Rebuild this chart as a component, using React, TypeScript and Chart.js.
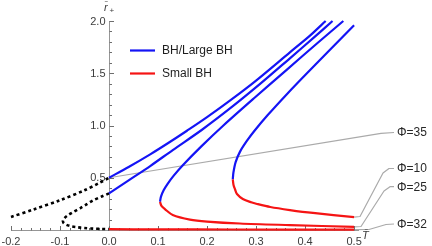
import React, { useEffect, useRef } from "react";
import { Chart, registerables } from "chart.js";

Chart.register(...registerables);

// ---------- data (T̄ , r̄+) ----------
// Φ=35
const T_A_large = [0, 0.04, 0.084, 0.12, 0.159, 0.2, 0.25, 0.3, 0.369, 0.41, 0.442];
const R_A_large = [0.5, 0.603, 0.724, 0.83, 0.95, 1.08, 1.25, 1.43, 1.7, 1.86, 2.0];
const T_A_neg = [-0.2, -0.155, -0.1, -0.05, -0.02, 0];
const R_A_neg = [0.125, 0.195, 0.285, 0.38, 0.45, 0.5];
// Φ=32
const T_B_large = [0, 0.04, 0.084, 0.13, 0.189, 0.25, 0.31, 0.369, 0.42, 0.456];
const R_B_large = [0.35, 0.475, 0.612, 0.765, 0.957, 1.175, 1.405, 1.643, 1.85, 2.0];
const T_B_small = [0, 0.1, 0.25, 0.5];
const R_B_small = [0.008, 0.006, 0.005, 0.004];
const T_B_neg = [0, -0.015, -0.032, -0.046, -0.059, -0.072, -0.083, -0.09, -0.094, -0.093, -0.088, -0.078, -0.066, -0.05, -0.032, -0.015, 0];
const R_B_neg = [0.35, 0.32, 0.285, 0.245, 0.208, 0.175, 0.144, 0.118, 0.092, 0.07, 0.052, 0.036, 0.027, 0.019, 0.013, 0.01, 0.008];
// Φ=25
const T_C_large = [0.104, 0.106, 0.1114, 0.1192, 0.132, 0.1505, 0.1883, 0.2333, 0.2981, 0.3618, 0.423, 0.478];
const R_C_large = [0.27, 0.32, 0.38, 0.44, 0.52, 0.62, 0.8, 1.0, 1.27, 1.53, 1.78, 2.0];
const T_C_small = [0.104, 0.107, 0.114, 0.13, 0.165, 0.2, 0.267, 0.369, 0.5];
const R_C_small = [0.27, 0.23, 0.2, 0.144, 0.1, 0.081, 0.062, 0.047, 0.03];
// Φ=10
const T_D_large = [0.2525, 0.2538, 0.2583, 0.2673, 0.2808, 0.2968, 0.3238, 0.3628, 0.4038, 0.4458, 0.5];
const R_D_large = [0.485, 0.55, 0.65, 0.75, 0.85, 0.95, 1.1, 1.3, 1.5, 1.7, 1.96];
const T_D_small = [0.2525, 0.254, 0.257, 0.261, 0.273, 0.29, 0.302, 0.329, 0.369, 0.416, 0.5];
const R_D_small = [0.485, 0.43, 0.39, 0.344, 0.297, 0.265, 0.249, 0.22, 0.191, 0.163, 0.124];

const xTickValues = [-0.2, -0.1, 0, 0.1, 0.2, 0.3, 0.4, 0.5];
const xTickLabels = ["-0.2", "-0.1", "0.0", "0.1", "0.2", "0.3", "0.4", "0.5"];
const yTickValues = [0.5, 1.0, 1.5, 2.0];
const yTickLabels = ["0.5", "1.0", "1.5", "2.0"];
const legendLabels = ["BH/Large BH", "Small BH"];
const phiLabels = ["Φ=35", "Φ=10", "Φ=25", "Φ=32"];

// ---------- styles ----------
const BLUE = "rgb(20,20,245)";
const RED = "rgb(245,20,20)";
const LEADER = "rgb(170,170,170)";
const AXIS = "rgb(150,150,150)";
const TICK = "rgb(110,110,110)";
const LABEL = "rgb(60,60,60)";
const FONT = "'Liberation Sans', Arial, sans-serif";

const pts = (T: number[], R: number[]) => T.map((t, i) => ({ x: t, y: R[i] }));

const line = (T: number[], R: number[], color: string) => ({
  data: pts(T, R),
  showLine: true,
  borderColor: color,
  backgroundColor: color,
  borderWidth: 2.2,
  pointRadius: 0,
  tension: 0.3,
  fill: false,
  clip: 4,
});
const dotted = (T: number[], R: number[]) => ({
  ...line(T, R, "#000"),
  borderWidth: 2.6,
  borderDash: [3, 3],
  borderCapStyle: "butt",
});

// callouts: anchor taken from the data, then waypoints in pixels toward the label
const callouts = [
  { label: phiLabels[0], T: T_A_large[0], R: R_A_large[0], path: [[381, 133.3], [394, 132.5]], ly: 132.5 },
  { label: phiLabels[1], T: T_D_small[T_D_small.length - 1], R: R_D_small[R_D_small.length - 1], path: [[360, 216.5], [383, 173], [389, 168.5], [394, 168.5]], ly: 168.5 },
  { label: phiLabels[2], T: T_C_small[T_C_small.length - 1], R: R_C_small[R_C_small.length - 1], path: [[361, 226.5], [384, 191], [390, 186.7], [394, 186.7]], ly: 186.7 },
  { label: phiLabels[3], T: T_B_small[T_B_small.length - 1], R: R_B_small[R_B_small.length - 1], path: [[369, 229.5], [386, 224.5], [394, 224]], ly: 224 },
];

const decor = {
  id: "decor",
  beforeDatasetsDraw(chart: any) {
    const { ctx, scales } = chart;
    const xs = scales.x;
    const ys = scales.y;
    const x0 = Math.round(xs.getPixelForValue(0)) + 0.5;
    const y0 = Math.round(ys.getPixelForValue(0)) + 0.5;
    ctx.save();
    // leaders
    ctx.strokeStyle = LEADER;
    ctx.lineWidth = 1.2;
    ctx.lineJoin = "round";
    for (const c of callouts) {
      ctx.beginPath();
      ctx.moveTo(xs.getPixelForValue(c.T), ys.getPixelForValue(c.R));
      for (const p of c.path) ctx.lineTo(p[0], p[1]);
      ctx.stroke();
    }
    // axes
    ctx.strokeStyle = AXIS;
    ctx.lineWidth = 1;
    ctx.beginPath();
    ctx.moveTo(xs.left, y0);
    ctx.lineTo(xs.right, y0);
    ctx.moveTo(x0, y0);
    ctx.lineTo(x0, ys.getPixelForValue(2.0));
    ctx.stroke();
    // ticks
    ctx.strokeStyle = TICK;
    ctx.beginPath();
    for (let k = -10; k <= 25; k++) {
      const v = k * 0.02;
      const p = Math.round(xs.getPixelForValue(v)) + 0.5;
      const len = k % 5 === 0 ? 4.5 : 2.5;
      ctx.moveTo(p, y0);
      ctx.lineTo(p, y0 - len);
    }
    for (let k = 1; k <= 20; k++) {
      const v = k * 0.1;
      const p = Math.round(ys.getPixelForValue(v)) + 0.5;
      const len = k % 5 === 0 ? 4.5 : 2.5;
      ctx.moveTo(x0, p);
      ctx.lineTo(x0 + len, p);
    }
    ctx.stroke();
    // tick labels
    ctx.fillStyle = LABEL;
    ctx.font = `11px ${FONT}`;
    ctx.textAlign = "center";
    ctx.textBaseline = "middle";
    xTickValues.forEach((v, i) => {
      ctx.fillText(xTickLabels[i], xs.getPixelForValue(v), 241.5);
    });
    ctx.textAlign = "right";
    yTickValues.forEach((v, i) => {
      ctx.fillText(yTickLabels[i], x0 - 4, ys.getPixelForValue(v) + 0.5);
    });
    // axis labels
    ctx.textAlign = "left";
    ctx.textBaseline = "alphabetic";
    ctx.font = `italic 11px ${FONT}`;
    ctx.fillText("r\u0304", 104, 11);
    ctx.font = `8px ${FONT}`;
    ctx.fillText("+", 109.5, 13);
    ctx.font = `italic 11px ${FONT}`;
    ctx.fillText("T\u0304", 362, 239);
    ctx.restore();
  },
  afterDatasetsDraw(chart: any) {
    const { ctx } = chart;
    ctx.save();
    // legend
    const items = [
      { c: BLUE, y: 50.5, t: legendLabels[0] },
      { c: RED, y: 73.5, t: legendLabels[1] },
    ];
    ctx.font = `12px ${FONT}`;
    ctx.textBaseline = "middle";
    ctx.textAlign = "left";
    for (const it of items) {
      ctx.strokeStyle = it.c;
      ctx.lineWidth = 2.2;
      ctx.beginPath();
      ctx.moveTo(130, it.y);
      ctx.lineTo(155, it.y);
      ctx.stroke();
      ctx.fillStyle = "rgb(30,30,30)";
      ctx.fillText(it.t, 162, it.y + 0.5);
    }
    // callout labels
    ctx.font = `12px ${FONT}`;
    ctx.fillStyle = "rgb(40,40,40)";
    for (const c of callouts) ctx.fillText(c.label, 397, c.ly + 0.5);
    ctx.restore();
  },
};

export default function App() {
  const ref = useRef<HTMLCanvasElement | null>(null);
  useEffect(() => {
    if (!ref.current) return;
    const chart = new Chart(ref.current, {
      type: "scatter",
      data: {
        datasets: [
          line(T_D_small, R_D_small, RED),
          line(T_C_small, R_C_small, RED),
          line(T_B_small, R_B_small, RED),
          line(T_A_large, R_A_large, BLUE),
          line(T_B_large, R_B_large, BLUE),
          line(T_C_large, R_C_large, BLUE),
          line(T_D_large, R_D_large, BLUE),
          dotted(T_A_neg, R_A_neg),
          dotted(T_B_neg, R_B_neg),
        ] as any,
      },
      options: {
        responsive: false,
        animation: false,
        events: [],
        layout: { padding: { left: 11, right: 73, top: 21, bottom: 16 } },
        plugins: { legend: { display: false }, tooltip: { enabled: false } },
        scales: {
          x: { type: "linear", min: -0.2, max: 0.51, display: false },
          y: { type: "linear", min: 0, max: 2.0, display: false },
        },
      },
      plugins: [decor],
    });
    return () => chart.destroy();
  }, []);
  return (
    <div style={{ position: "fixed", left: 0, top: 0, width: 432, height: 246, background: "#fff" }}>
      <canvas ref={ref} width={432} height={246} style={{ display: "block", width: 432, height: 246 }} />
    </div>
  );
}
